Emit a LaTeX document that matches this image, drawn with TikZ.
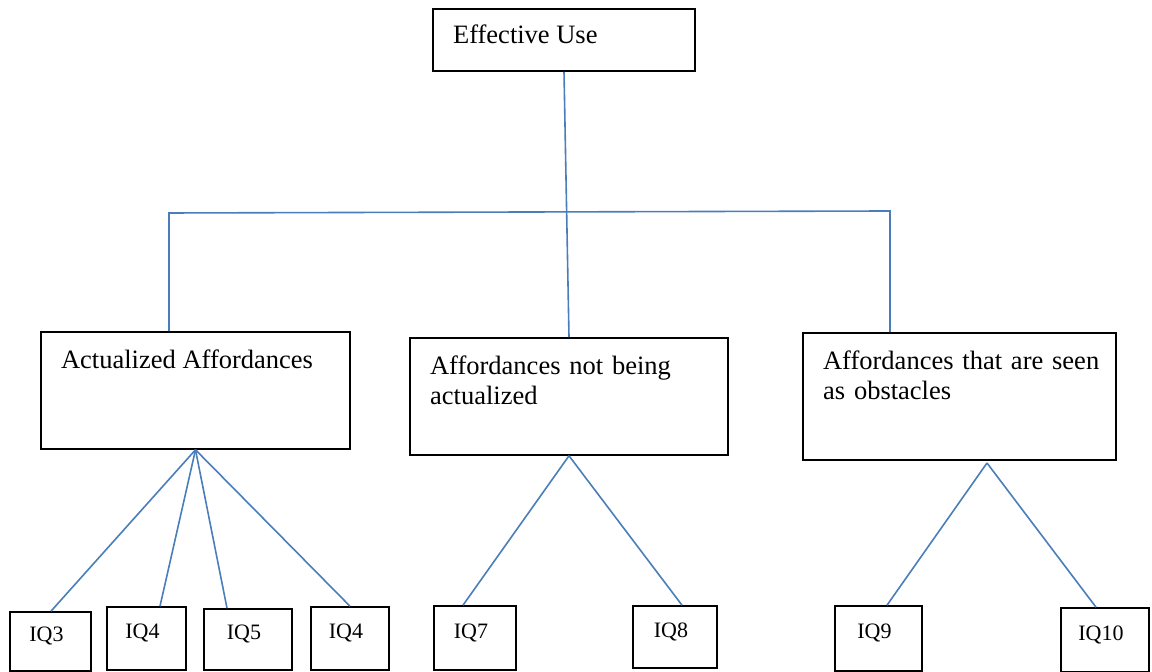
\documentclass[tikz,border=0pt]{standalone}
\usepackage{fontspec}
\setmainfont{Liberation Serif}
\usepackage{tikz}
\usetikzlibrary{positioning}
\definecolor{linkblue}{RGB}{74,126,187}

\begin{document}
\begin{tikzpicture}[x=0.5pt,y=-0.5pt,
    box/.style={draw=black, line width=0.8pt, inner sep=0pt},
    boxtext/.style={anchor=base west, align=left, inner sep=0pt, xshift=10.25pt, yshift=-18.5pt,
        font=\fontsize{13.25}{15.25}\selectfont},
    iqtext/.style={xshift=-2pt, yshift=2.5pt, font=\fontsize{11}{13}\selectfont},
    iq/.style={box, label={[iqtext]center:#1}},
    link/.style={draw=linkblue, line width=0.8pt}]
    \useasboundingbox (0,0) rectangle (1152,672);

    % top box
    \node[box, minimum width=131pt, minimum height=31pt,
        label={[boxtext, yshift=1pt]north west:Effective Use}] (use) at (564,40) {};

    % middle row
    \node[box, minimum width=154.5pt, minimum height=58.5pt,
        label={[boxtext]north west:Actualized Affordances}] (act) at (195.5,390.5) {};
    \node[box, minimum width=159pt, minimum height=58.5pt,
        label={[boxtext, text width=150pt]north west:{Affordances not being\\actualized}}] (notact) at (569,396.5) {};
    \node[box, minimum width=156.5pt, minimum height=63.5pt,
        label={[boxtext, text width=150pt]north west:{Affordances that are seen\\as obstacles}}] (obst) at (959.5,396.5) {};

    % bottom row
    \foreach \n/\t/\x/\y/\w/\h in {q3/IQ3/50.5/641.5/40.5/29.5, q4/IQ4/146.5/638.5/39.5/31.5,
        q5/IQ5/248/639.5/44/30.5, q4b/IQ4/350/638.5/39/31.5, q7/IQ7/475/638/41/32,
        q8/IQ8/675/637/42/31, q9/IQ9/878.5/638.5/43.5/32.5, q10/IQ10/1105/640/44/32}
        \node[iq=\t, minimum width=\w pt, minimum height=\h pt] (\n) at (\x,\y) {};

    % links
    \draw[link] (use.south) -- (notact.north);
    \coordinate (jl) at (169,213);
    \coordinate (jr) at (890,211);
    \draw[link] (act.north -| jl) -- (jl) -- (jr) -- (obst.north -| jr);
    \foreach \n/\x in {q3/51, q4/160, q5/227, q4b/350}
        \draw[link] (act.south) -- (\x,0 |- \n.north);
    \foreach \n/\x in {q7/463, q8/682}
        \draw[link] (notact.south) -- (\x,0 |- \n.north);
    \coordinate (apex) at (987,463);
    \foreach \n/\x in {q9/887, q10/1096}
        \draw[link] (apex) -- (\x,0 |- \n.north);
\end{tikzpicture}
\end{document}
